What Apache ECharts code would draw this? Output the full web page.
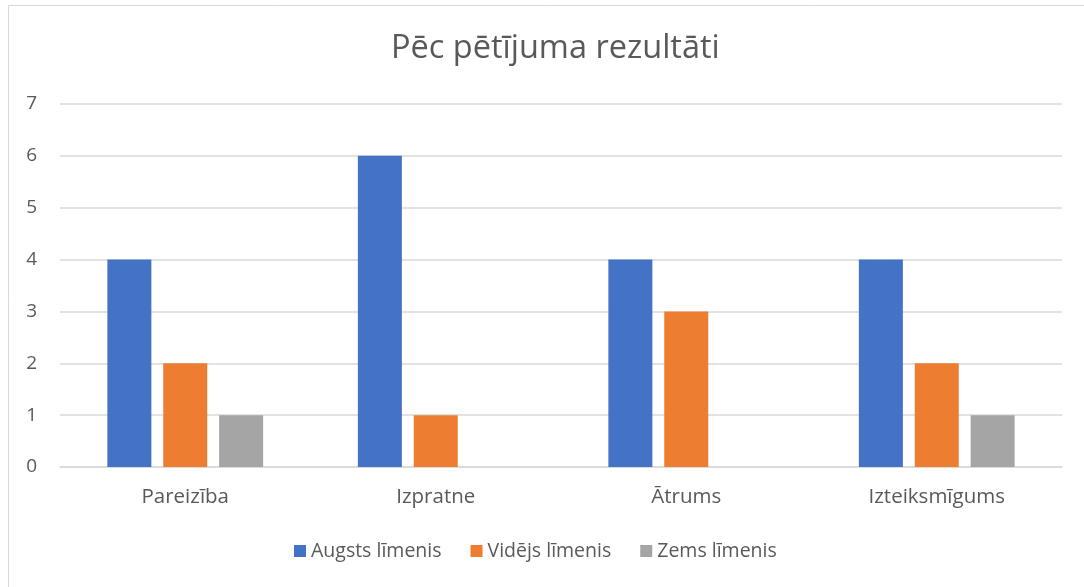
<!DOCTYPE html>
<html>
<head>
<meta charset="utf-8">
<script src="https://cdn.jsdelivr.net/npm/echarts@6/dist/echarts.min.js"></script>
<style>
  html, body { margin: 0; padding: 0; background: #fff; }
  #chart { width: 1084px; height: 587px; }
</style>
</head>
<body>
<div id="chart"></div>
<script>
// dati no attēla
const categories = ['Pareizība', 'Izpratne', 'Ātrums', 'Izteiksmīgums'];
const augsts = [4, 6, 4, 4];
const videjs = [2, 1, 3, 2];
const zems = [1, 0, 0, 1];
const seriesNames = ['Augsts līmenis', 'Vidējs līmenis', 'Zems līmenis'];
const colors = ['#4472C4', '#ED7D31', '#A5A5A5'];

const font = '"Open Sans", "Noto Sans", sans-serif';
const chart = echarts.init(document.getElementById('chart'));

const seriesData = [augsts, videjs, zems];

chart.setOption({
  animation: false,
  textStyle: { fontFamily: font },
  title: {
    text: 'Pēc pētījuma rezultāti',
    left: 386,
    top: 27,
    textStyle: { fontSize: 32.5, fontWeight: 'normal', color: '#595959', fontFamily: font }
  },
  graphic: [{
    type: 'rect',
    shape: { x: 8.5, y: 5.5, width: 1090, height: 600 },
    style: { fill: 'none', stroke: '#d9d9d9', lineWidth: 1 },
    silent: true
  }],
  legend: {
    bottom: 21,
    left: 289,
    itemWidth: 12,
    itemHeight: 12,
    itemGap: 29,
    icon: 'rect',
    textStyle: { fontSize: 19.5, color: '#595959', fontFamily: font },
    data: seriesNames
  },
  grid: { left: 60, right: 22, top: 104, bottom: 120, containLabel: false },
  xAxis: {
    type: 'category',
    data: categories,
    axisLine: { lineStyle: { color: '#d9d9d9', width: 1.5 } },
    axisTick: { show: false },
    axisLabel: { fontSize: 20.5, color: '#595959', margin: 20, fontFamily: font }
  },
  yAxis: {
    type: 'value',
    min: 0,
    max: 7,
    interval: 1,
    axisLine: { show: false },
    axisTick: { show: false },
    axisLabel: { fontSize: 19, color: '#595959', margin: 23, fontFamily: font },
    splitLine: { lineStyle: { color: '#d9d9d9', width: 1.5 } }
  },
  series: seriesNames.map((name, i) => ({
    name: name,
    type: 'bar',
    data: seriesData[i],
    barWidth: 44,
    barGap: '27%',
    itemStyle: { color: colors[i] }
  }))
});
</script>
</body>
</html>
